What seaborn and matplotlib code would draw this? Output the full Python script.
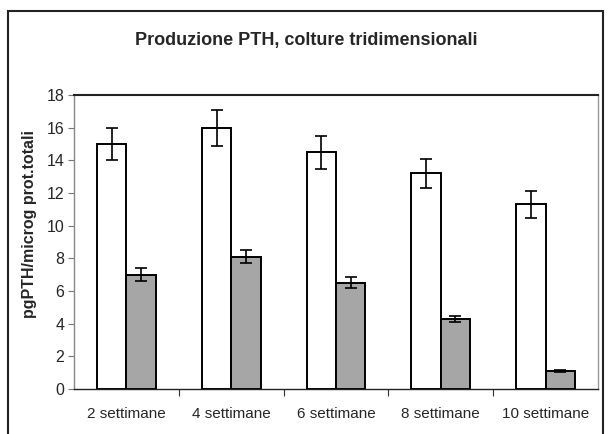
import matplotlib
matplotlib.use("Agg")
import matplotlib.pyplot as plt
import seaborn as sns
import pandas as pd
import numpy as np
from matplotlib.patches import Rectangle

categories = ["2 settimane", "4 settimane", "6 settimane", "8 settimane", "10 settimane"]
series_names = ["A", "B"]
values_a = [15.0, 16.0, 14.5, 13.2, 11.3]
errors_a = [1.0, 1.1, 1.0, 0.9, 0.8]
values_b = [7.0, 8.1, 6.5, 4.3, 1.1]
errors_b = [0.38, 0.41, 0.33, 0.2, 0.08]
yticks = [0, 2, 4, 6, 8, 10, 12, 14, 16, 18]

df = pd.DataFrame({
    "cat": categories * 2,
    "serie": [series_names[0]] * 5 + [series_names[1]] * 5,
    "val": values_a + values_b,
})

sns.set_theme(style="white")
plt.rcParams["font.family"] = ["Liberation Sans", "DejaVu Sans"]

fig = plt.figure(figsize=(6.09, 4.34), dpi=100)
ax = fig.add_axes([74 / 609, 1 - 389 / 434, (598 - 74) / 609, (389 - 95) / 434])

sns.barplot(data=df, x="cat", y="val", hue="serie", order=categories,
            hue_order=series_names, palette=["white", "#a6a6a6"],
            width=0.56, gap=0, edgecolor="black", linewidth=1.4,
            errorbar=None, legend=False, ax=ax)

# error bars at bar centers
patches = ax.patches
errs = errors_a + errors_b
vals = values_a + values_b
for p, v, e in zip(patches, vals, errs):
    cx = p.get_x() + p.get_width() / 2
    ax.errorbar(cx, v, yerr=e, fmt="none", ecolor="black", elinewidth=1.2,
                capsize=4, capthick=1.2, zorder=5)

ax.set_xlim(-0.5, 4.5)
ax.set_ylim(0, 18)
ax.set_yticks(yticks)
ax.set_yticklabels([str(t) for t in yticks], fontsize=11.5)
ax.set_xlabel("")
ax.set_ylabel("pgPTH/microg prot.totali", fontsize=11.5, fontweight="bold")
ax.yaxis.set_label_coords(-0.071, 0.56)
ax.tick_params(axis="y", which="major", left=True, length=4, width=0.8, color="#777777", pad=3)
ax.tick_params(axis="x", which="major", bottom=False, labelsize=11, pad=7)
ax.set_xticks([0.5, 1.5, 2.5, 3.5], minor=True)
ax.tick_params(axis="x", which="minor", bottom=True, length=5, width=0.8, color="#333333")

ax.spines["left"].set_color("#888888")
ax.spines["left"].set_linewidth(1.0)
ax.spines["bottom"].set_color("#222222")
ax.spines["bottom"].set_linewidth(1.0)
ax.spines["top"].set_color("#222222")
ax.spines["top"].set_linewidth(1.5)
ax.spines["right"].set_color("#999999")
ax.spines["right"].set_linewidth(1.0)

fig.text(306 / 609, 1 - 40 / 434, "Produzione PTH, colture tridimensionali",
         ha="center", va="center", fontsize=13, fontweight="bold")

# outer chart frame
frame = Rectangle((8 / 609, -0.05), (603 - 8) / 609, 1 - 11 / 434 + 0.05,
                  transform=fig.transFigure, fill=False, edgecolor="#222222",
                  linewidth=1.5, zorder=0)
fig.patches.append(frame)

fig.savefig("out.png", dpi=100)
